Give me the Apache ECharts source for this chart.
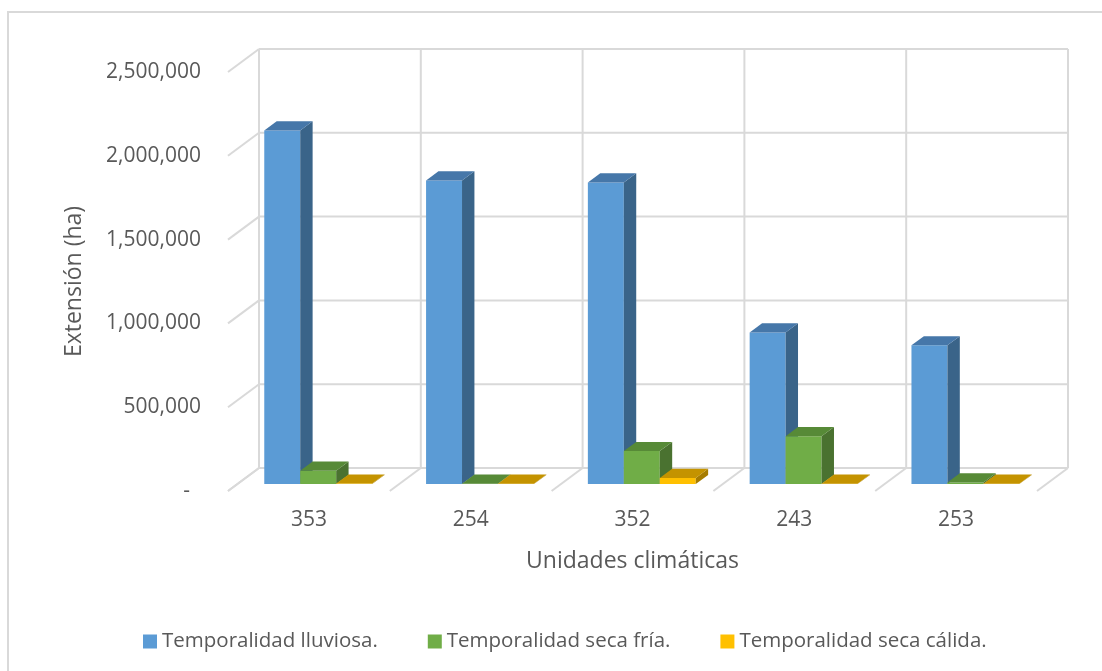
<!DOCTYPE html>
<html>
<head>
<meta charset="utf-8">
<script src="https://cdn.jsdelivr.net/npm/echarts@6.0.0/dist/echarts.min.js"></script>
<style>
html,body{margin:0;padding:0;background:#fff;}
#chart{width:1102px;height:671px;}
</style>
</head>
<body>
<div id="chart"></div>
<script>
const categories = ['353', '254', '352', '243', '253'];
const lluviosa = [2110000, 1812000, 1800000, 905000, 828000];
const secaFria = [80000, 2000, 197000, 286000, 10000];
const secaCalida = [3000, 2000, 36000, 2000, 2000];
const yTicks = [0, 500000, 1000000, 1500000, 2000000, 2500000];
const seriesNames = ['Temporalidad lluviosa.', 'Temporalidad seca fría.', 'Temporalidad seca cálida.'];

const FONT = 'Open Sans';
const TXT = '#595959';
const GRID = '#D9D9D9';
// oblique depth vector (back wall -> front edge), in pixels
const DX = -31, DY = 23;
const FRONT_F = 0.70, BACK_F = 0.30;

const palettes = [
  { front: '#5B9BD5', top: '#4677A9', side: '#3A6489' },
  { front: '#70AD47', top: '#578A37', side: '#4A7230' },
  { front: '#FFC000', top: '#C49300', side: '#A67C00' }
];

function fmt(v) {
  if (v === 0) return '-  ';
  return v.toLocaleString('en-US');
}

function barRenderer(sIdx) {
  const pal = palettes[sIdx];
  return function (params, api) {
    const i = api.value(0), v = api.value(1);
    const c0 = api.coord([i, 0]);
    const c1 = api.coord([i, v]);
    const catW = api.size([1, 0])[0];
    const bw = catW * 36 / 162;
    const fx = DX * FRONT_F, fy = DY * FRONT_F;
    const ddx = DX * (BACK_F - FRONT_F), ddy = DY * (BACK_F - FRONT_F);
    const xl = c0[0] + fx + (sIdx - 1.5) * bw;
    const xr = xl + bw;
    const yb = c0[1] + fy;
    const yt = c1[1] + fy;
    return {
      type: 'group',
      children: [
        { type: 'polygon', shape: { points: [[xl, yt], [xr, yt], [xr, yb], [xl, yb]] }, style: { fill: pal.front } },
        { type: 'polygon', shape: { points: [[xr, yt], [xr, yb], [xr + ddx, yb + ddy], [xr + ddx, yt + ddy]] }, style: { fill: pal.side } },
        { type: 'polygon', shape: { points: [[xl, yt], [xr, yt], [xr + ddx, yt + ddy], [xl + ddx, yt + ddy]] }, style: { fill: pal.top } }
      ]
    };
  };
}

function wallRenderer(params, api) {
  const cs = params.coordSys;
  const left = cs.x, right = cs.x + cs.width;
  const n = categories.length;
  const catW = cs.width / n;
  const children = [];
  const ls = { stroke: GRID, lineWidth: 2 };
  const y0 = api.coord([0, 0])[1];
  const yTop = api.coord([0, yTicks[yTicks.length - 1]])[1];
  yTicks.forEach(function (t) {
    const y = api.coord([0, t])[1];
    children.push({ type: 'line', shape: { x1: left, y1: y, x2: right, y2: y }, style: ls });
    children.push({ type: 'line', shape: { x1: left, y1: y, x2: left + DX, y2: y + DY }, style: ls });
  });
  for (let b = 0; b <= n; b++) {
    const x = left + b * catW;
    children.push({ type: 'line', shape: { x1: x, y1: yTop, x2: x, y2: y0 }, style: ls });
    children.push({ type: 'line', shape: { x1: x, y1: y0, x2: x + DX, y2: y0 + DY }, style: ls });
  }
  return { type: 'group', children: children };
}

const chart = echarts.init(document.getElementById('chart'), null, { renderer: 'canvas' });

const yMax = yTicks[yTicks.length - 1];
const yStep = yTicks[1] - yTicks[0];

const option = {
  animation: false,
  backgroundColor: '#ffffff',
  textStyle: { fontFamily: FONT, color: TXT },
  graphic: [
    { type: 'rect', z: -10, shape: { x: 8, y: 12, width: 1120, height: 700 }, style: { fill: 'none', stroke: GRID, lineWidth: 2 } }
  ],
  legend: {
    left: 138,
    top: 626,
    itemWidth: 14,
    itemHeight: 14,
    itemGap: 50,
    icon: 'rect',
    data: seriesNames,
    textStyle: { fontFamily: FONT, fontSize: 20.5, color: TXT }
  },
  grid: [
    { left: 259, top: 49, width: 809, height: 419 },
    { left: 228, top: 72, width: 809, height: 419 }
  ],
  xAxis: [
    {
      gridIndex: 0, type: 'category', data: categories, boundaryGap: true,
      axisLine: { show: false }, axisTick: { show: false }, axisLabel: { show: false }, splitLine: { show: false }
    },
    {
      gridIndex: 1, type: 'category', data: categories, boundaryGap: true,
      axisLine: { show: false }, axisTick: { show: false }, splitLine: { show: false },
      axisLabel: { margin: 19, fontFamily: FONT, fontSize: 21, color: TXT },
      name: 'Unidades climáticas', nameLocation: 'middle', nameGap: 59,
      nameTextStyle: { fontFamily: FONT, fontSize: 23, color: TXT }
    }
  ],
  yAxis: [
    {
      gridIndex: 0, type: 'value', min: 0, max: yMax, interval: yStep,
      axisLine: { show: false }, axisTick: { show: false }, axisLabel: { show: false }, splitLine: { show: false }
    },
    {
      gridIndex: 1, type: 'value', min: 0, max: yMax, interval: yStep,
      axisLine: { show: false }, axisTick: { show: false }, splitLine: { show: false },
      axisLabel: { margin: 27, fontFamily: FONT, fontSize: 21, color: TXT, formatter: fmt },
      name: 'Extensión (ha)', nameLocation: 'middle', nameGap: 142,
      nameTextStyle: { fontFamily: FONT, fontSize: 23, color: TXT }
    }
  ],
  series: [
    {
      type: 'custom', name: 'walls', xAxisIndex: 0, yAxisIndex: 0, silent: true, z: 1,
      renderItem: wallRenderer, data: [[0, 0]]
    },
    {
      type: 'custom', name: seriesNames[0], xAxisIndex: 0, yAxisIndex: 0, z: 2,
      itemStyle: { color: palettes[0].front },
      renderItem: barRenderer(0),
      data: lluviosa.map(function (v, i) { return [i, v]; })
    },
    {
      type: 'custom', name: seriesNames[1], xAxisIndex: 0, yAxisIndex: 0, z: 2,
      itemStyle: { color: palettes[1].front },
      renderItem: barRenderer(1),
      data: secaFria.map(function (v, i) { return [i, v]; })
    },
    {
      type: 'custom', name: seriesNames[2], xAxisIndex: 0, yAxisIndex: 0, z: 2,
      itemStyle: { color: palettes[2].front },
      renderItem: barRenderer(2),
      data: secaCalida.map(function (v, i) { return [i, v]; })
    }
  ]
};

chart.setOption(option);
</script>
</body>
</html>
